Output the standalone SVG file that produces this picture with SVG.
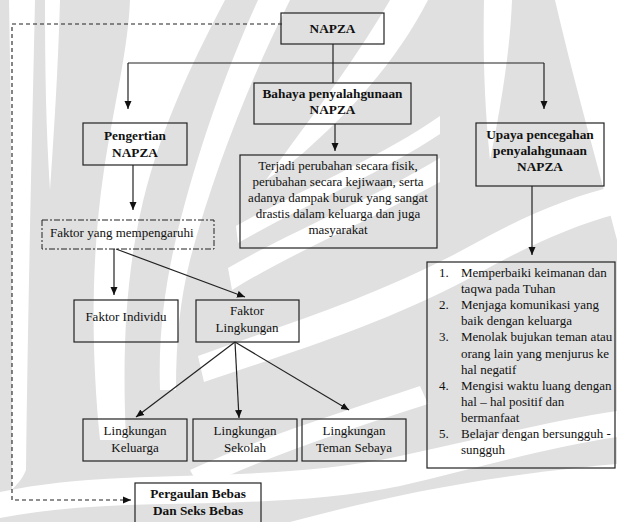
<svg xmlns="http://www.w3.org/2000/svg" width="617" height="522" viewBox="0 0 617 522">
<style>
.box{fill:none;stroke:#222;stroke-width:1.2}
.dd{fill:none;stroke:#222;stroke-width:1;stroke-dasharray:6,2,2,2}
text{font-family:'Liberation Serif','Times New Roman',serif;font-size:13px;fill:#111}
.b{font-weight:bold;font-size:13.3px}
.m{text-anchor:middle}
.ln{fill:none;stroke:#222;stroke-width:1.2}
.dash{fill:none;stroke:#222;stroke-width:1.1;stroke-dasharray:4,3}
.ws{fill:#fff}
</style>
<defs>
<marker id="ah" markerUnits="userSpaceOnUse" markerWidth="8" markerHeight="8" viewBox="0 0 8 8" refX="8" refY="4" orient="auto">
<path d="M0,0.5 L8,4 L0,7.5 z" fill="#111"/>
</marker>
</defs>
<g id="watermark">
<rect width="617" height="522" fill="#e0e0e0"/>
<path class="ws" d="M9,0 H35 C32,140 28,300 26,470 C22,480 16,485 12,490 C12,320 12,160 9,0 Z"/>
<path class="ws" d="M45,0 H60 C58,70 54,130 50,190 C46,130 45,70 45,0 Z"/>
<path class="ws" d="M130,0 H225 C188,70 156,140 140,215 C126,280 122,350 126,440 L100,440 C90,340 92,250 104,170 C114,105 128,50 130,0 Z"/>
<path class="ws" d="M258,0 H290 C250,80 214,170 190,260 C180,300 176,340 176,390 L160,390 C158,330 166,280 178,230 C198,150 226,70 258,0 Z"/>
<path class="ws" d="M390,0 H428 C396,62 350,112 302,154 C290,164 278,172 266,180 C298,134 348,72 390,0 Z"/>
<path class="ws" d="M484,0 H512 C510,50 502,100 490,160 C484,100 483,50 484,0 Z"/>
<path class="ws" d="M228,268 C290,232 370,200 440,158 L440,182 C370,220 290,254 232,290 Z"/>
<path class="ws" d="M236,226 C300,190 380,158 440,116 L440,134 C380,174 300,207 238,243 Z"/>
<path class="ws" d="M555,0 H617 V240 C598,165 576,90 555,0 Z"/>
<path class="ws" d="M198,356 C280,326 380,296 470,246 C520,218 570,196 617,186 V214 C570,226 520,250 470,278 C380,326 280,356 204,382 Z"/>
<path class="ws" d="M190,470 C260,438 330,416 420,386 L428,404 C340,432 270,456 200,488 Z"/>
<path class="ws" d="M0,492 C120,466 260,486 400,456 C480,439 550,421 617,411 V437 C550,447 480,467 400,486 C260,514 120,494 0,518 Z"/>
<path class="ws" d="M290,522 C380,498 480,476 617,464 V522 Z"/>
</g>
<g id="connectors">
<path class="dash" d="M282,24 H12 V500 H131" marker-end="url(#ah)"/>
<path class="ln" d="M333,44 V83"/>
<path class="ln" d="M128,63 H544"/>
<path class="ln" d="M128,63 V109" marker-end="url(#ah)"/>
<path class="ln" d="M544,63 V109" marker-end="url(#ah)"/>
<path class="ln" d="M335,124 V151" marker-end="url(#ah)"/>
<path class="ln" d="M133,165 V210" marker-end="url(#ah)"/>
<path class="ln" d="M532,186 V255" marker-end="url(#ah)"/>
<path class="ln" d="M114,249 V295" marker-end="url(#ah)"/>
<path class="ln" d="M116,249 L245,297" marker-end="url(#ah)"/>
<path class="ln" d="M235,342 L136,417" marker-end="url(#ah)"/>
<path class="ln" d="M235,342 L239,418" marker-end="url(#ah)"/>
<path class="ln" d="M235,342 L349,410" marker-end="url(#ah)"/>
</g>
<g id="napza">
<rect class="box" x="281" y="13" width="103" height="31"/>
<text class="b m" x="332.5" y="33">NAPZA</text>
</g>
<g id="pengertian">
<rect class="box" x="83" y="123" width="104" height="42"/>
<text class="b m" x="135" y="139.5">Pengertian</text>
<text class="b m" x="135" y="156.5">NAPZA</text>
</g>
<g id="bahaya">
<rect class="box" x="254" y="83" width="157" height="41"/>
<text class="b m" x="332.5" y="98">Bahaya penyalahgunaan</text>
<text class="b m" x="332.5" y="114">NAPZA</text>
</g>
<g id="upaya">
<rect class="box" x="476" y="123" width="128" height="63"/>
<text class="b m" x="540" y="139">Upaya pencegahan</text>
<text class="b m" x="540" y="155">penyalahgunaan</text>
<text class="b m" x="540" y="171">NAPZA</text>
</g>
<g id="bahaya-desc">
<rect class="box" x="240" y="155" width="197" height="93"/>
<text class="m" x="338" y="169.5">Terjadi perubahan secara fisik,</text>
<text class="m" x="338" y="185.5">perubahan secara kejiwaan, serta</text>
<text class="m" x="338" y="201.5">adanya dampak buruk yang sangat</text>
<text class="m" x="338" y="217.5">drastis dalam keluarga dan juga</text>
<text class="m" x="338" y="233.5">masyarakat</text>
</g>
<g id="faktor">
<rect class="dd" x="42" y="220" width="172" height="29"/>
<text x="50" y="237">Faktor yang mempengaruhi</text>
</g>
<g id="individu">
<rect class="box" x="74" y="300" width="104" height="42"/>
<text class="m" x="126" y="320.5">Faktor Individu</text>
</g>
<g id="lingkungan">
<rect class="box" x="196" y="300" width="103" height="42"/>
<text class="m" x="247" y="314.5">Faktor</text>
<text class="m" x="247" y="331.5">Lingkungan</text>
</g>
<g id="keluarga">
<rect class="box" x="83" y="419" width="104" height="42"/>
<text class="m" x="135" y="434.5">Lingkungan</text>
<text class="m" x="135" y="451.5">Keluarga</text>
</g>
<g id="sekolah">
<rect class="box" x="193" y="419" width="104" height="42"/>
<text class="m" x="245" y="434.5">Lingkungan</text>
<text class="m" x="245" y="451.5">Sekolah</text>
</g>
<g id="teman">
<rect class="box" x="302" y="419" width="104" height="42"/>
<text class="m" x="354" y="434.5">Lingkungan</text>
<text class="m" x="354" y="451.5">Teman Sebaya</text>
</g>
<g id="upaya-list">
<rect class="box" x="427" y="262" width="188" height="206"/>
<text x="439" y="277">1.</text><text x="461" y="277">Memperbaiki keimanan dan</text>
<text x="461" y="293.1">taqwa pada Tuhan</text>
<text x="439" y="309.2">2.</text><text x="461" y="309.2">Menjaga komunikasi yang</text>
<text x="461" y="325.3">baik dengan keluarga</text>
<text x="439" y="341.4">3.</text><text x="461" y="341.4">Menolak bujukan teman atau</text>
<text x="461" y="357.5">orang lain yang menjurus ke</text>
<text x="461" y="373.6">hal negatif</text>
<text x="439" y="389.7">4.</text><text x="461" y="389.7">Mengisi waktu luang dengan</text>
<text x="461" y="405.8">hal – hal positif dan</text>
<text x="461" y="421.9">bermanfaat</text>
<text x="439" y="438">5.</text><text x="461" y="438">Belajar dengan bersungguh -</text>
<text x="461" y="454.1">sungguh</text>
</g>
<g id="pergaulan">
<rect class="box" x="135" y="483" width="126" height="48"/>
<text class="b m" x="198" y="498">Pergaulan Bebas</text>
<text class="b m" x="198" y="515">Dan Seks Bebas</text>
</g>
</svg>
